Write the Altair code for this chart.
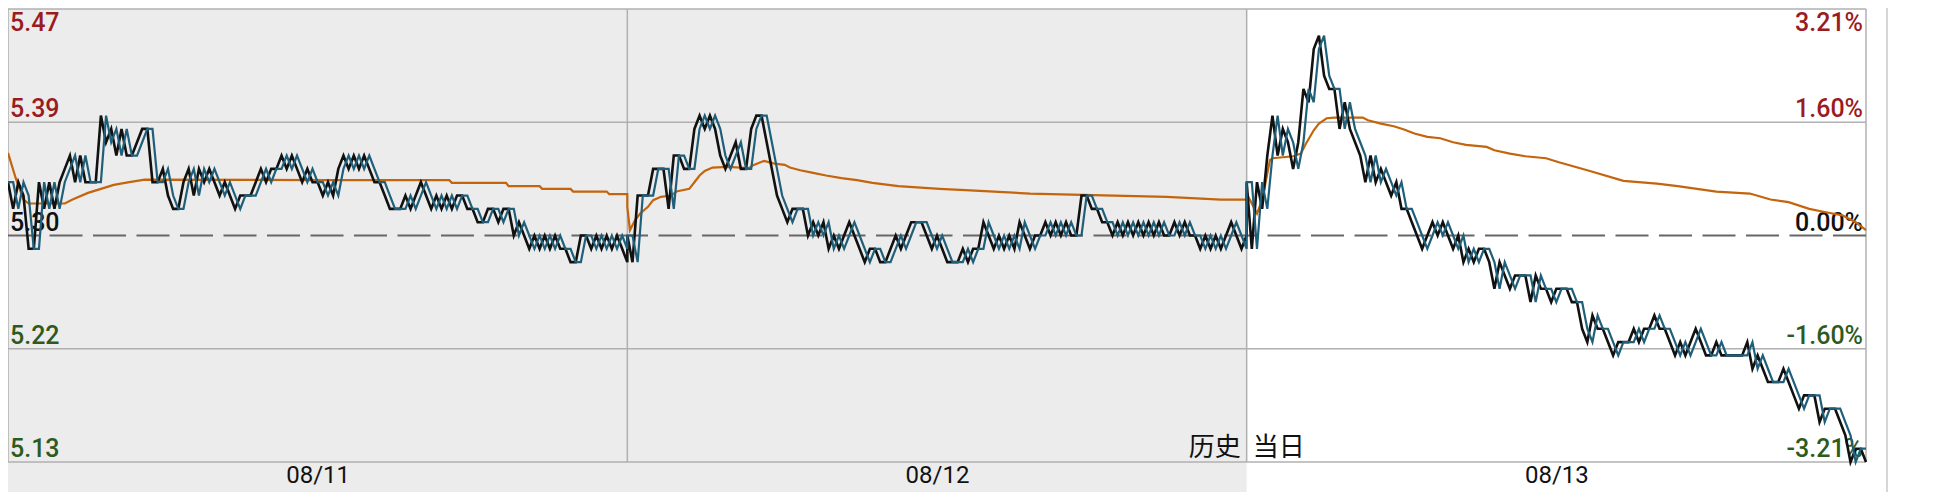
import altair as alt
import pandas as pd

# prices are stored as cents above/below the previous close 5.30, sampled every 2 minutes
prev_close = 5.30
days = ["08/11", "08/12", "08/13"]
minutes = list(range(0, 241, 2))

day1_price = [4, 2, 4, 3, -1, -1, 4, 2, 4, 2,
              4, 5, 6, 4, 6, 4, 4, 4, 9, 7,
              8, 6, 8, 6, 6, 7, 8, 8, 4, 4,
              5, 3, 2, 2, 4, 5, 3, 5, 4, 5,
              4, 3, 4, 3, 2, 3, 3, 3, 4, 5,
              4, 5, 5, 6, 5, 6, 5, 4, 5, 4,
              4, 3, 4, 3, 5, 6, 5, 6, 5, 6,
              5, 4, 4, 3, 2, 2, 2, 3, 2, 3,
              4, 3, 2, 3, 2, 3, 2, 3, 3, 2,
              2, 1, 1, 2, 2, 1, 2, 2, 0, 1,
              0, -1, 0, -1, 0, -1, 0, -1, -1, -2,
              -2, 0, 0, -1, 0, -1, 0, -1, 0, -1,
              -2]
day1_last = [4, 4, 2, 4, 3, -1, -1, 4, 2, 4,
             2, 4, 5, 6, 4, 6, 4, 4, 4, 9,
             7, 8, 6, 8, 6, 6, 7, 8, 8, 4,
             4, 5, 3, 2, 2, 4, 5, 3, 5, 4,
             5, 4, 3, 4, 3, 2, 3, 3, 3, 4,
             5, 4, 5, 5, 6, 5, 6, 5, 4, 5,
             4, 4, 3, 4, 3, 5, 6, 5, 6, 5,
             6, 5, 4, 4, 3, 2, 2, 2, 3, 2,
             3, 4, 3, 2, 3, 2, 3, 2, 3, 3,
             2, 2, 1, 1, 2, 2, 1, 2, 2, 0,
             1, 0, -1, 0, -1, 0, -1, 0, -1, -1,
             -2, -2, 0, 0, -1, 0, -1, 0, -1, 0,
             -1]

day2_price = [0, -2, 3, 3, 3, 5, 5, 5, 2, 6,
              6, 5, 5, 8, 9, 8, 9, 8, 6, 5,
              6, 7, 5, 5, 8, 9, 9, 7, 5, 3,
              2, 1, 2, 2, 2, 0, 1, 0, 1, -1,
              0, -1, 0, 1, 0, -1, -2, -1, -1, -2,
              -2, -1, 0, -1, 0, 1, 1, 1, 0, -1,
              0, -1, -2, -2, -2, -1, -2, -1, -1, 1,
              0, -1, 0, -1, 0, -1, 1, 0, -1, 0,
              0, 1, 0, 1, 0, 1, 0, 0, 3, 3,
              2, 2, 1, 1, 0, 1, 0, 1, 0, 1,
              0, 1, 0, 1, 0, 0, 1, 0, 1, 0,
              0, -1, 0, -1, 0, -1, 0, 1, 0, -1,
              0]
day2_last = [0, 0, -2, 3, 3, 3, 5, 5, 5, 2,
             6, 6, 5, 5, 8, 9, 8, 9, 8, 6,
             5, 6, 7, 5, 5, 8, 9, 9, 7, 5,
             3, 2, 1, 2, 2, 2, 0, 1, 0, 1,
             -1, 0, -1, 0, 1, 0, -1, -2, -1, -1,
             -2, -2, -1, 0, -1, 0, 1, 1, 1, 0,
             -1, 0, -1, -2, -2, -2, -1, -2, -1, -1,
             1, 0, -1, 0, -1, 0, -1, 1, 0, -1,
             0, 0, 1, 0, 1, 0, 1, 0, 0, 3,
             3, 2, 2, 1, 1, 0, 1, 0, 1, 0,
             1, 0, 1, 0, 1, 0, 0, 1, 0, 1,
             0, 0, -1, 0, -1, 0, -1, 0, 1, 0,
             -1]

day3_price = [4, -1, 4, 2, 6, 9, 6, 8, 7, 5,
              7, 11, 10, 14, 15, 12, 11, 11, 8, 10,
              8, 7, 6, 4, 6, 4, 5, 4, 3, 4,
              2, 2, 1, 0, -1, 0, 1, 0, 1, 0,
              -1, 0, -2, -1, -2, -1, -1, -2, -4, -2,
              -3, -4, -3, -3, -3, -5, -3, -4, -4, -5,
              -4, -4, -4, -5, -5, -7, -8, -6, -7, -7,
              -8, -9, -8, -8, -8, -7, -8, -7, -7, -6,
              -7, -7, -8, -9, -8, -9, -8, -7, -8, -9,
              -9, -8, -9, -9, -9, -9, -9, -8, -10, -9,
              -10, -11, -11, -11, -10, -11, -12, -13, -12, -12,
              -12, -14, -13, -13, -13, -14, -15, -17, -16, -16,
              -17]
day3_last = [4, 4, -1, 4, 2, 6, 9, 6, 8, 7,
             5, 7, 11, 10, 14, 15, 12, 11, 11, 8,
             10, 8, 7, 6, 4, 6, 4, 5, 4, 3,
             4, 2, 2, 1, 0, -1, 0, 1, 0, 1,
             0, -1, 0, -2, -1, -2, -1, -1, -2, -4,
             -2, -3, -4, -3, -3, -3, -5, -3, -4, -4,
             -5, -4, -4, -4, -5, -5, -7, -8, -6, -7,
             -7, -8, -9, -8, -8, -8, -7, -8, -7, -7,
             -6, -7, -7, -8, -9, -8, -9, -8, -7, -8,
             -9, -9, -8, -9, -9, -9, -9, -9, -8, -10,
             -9, -10, -11, -11, -11, -10, -11, -12, -13, -12,
             -12, -12, -14, -13, -13, -13, -14, -15, -17, -16,
             -16]

# average price line (minute of day, cents)
day1_avg_t = [0, 3, 6, 8, 22, 25, 31, 36, 41, 47, 53, 121, 171, 172, 193, 194, 206, 207, 218, 219, 232, 233, 240]
day1_avg = [6.2, 4.3, 2.7, 2.4, 2.4, 2.7, 3.2, 3.5, 3.8, 4.0, 4.2, 4.15, 4.15, 3.95, 3.95, 3.7, 3.7, 3.5, 3.5, 3.3, 3.3, 3.1, 3.1]
day2_avg_t = [0, 1, 3, 5, 8, 10, 13, 17, 19, 24, 26, 28, 30, 33, 39, 47, 49, 53, 57, 61,
              63, 67, 72, 77, 83, 89, 95, 105, 121, 131, 156, 209, 230, 240]
day2_avg = [2.15, 0.4, 1.15, 1.65, 2.15, 2.65, 2.9, 3.0, 3.3, 3.5, 4.0, 4.5, 4.85, 5.1, 5.15, 5.05, 5.3, 5.6, 5.4, 5.3,
            5.1, 4.9, 4.7, 4.5, 4.3, 4.15, 3.95, 3.7, 3.5, 3.4, 3.15, 2.9, 2.7, 2.7]
day3_avg_t = [0, 4, 6, 8, 9, 10, 18, 21, 23, 26, 28, 31, 34, 45, 47, 52, 57, 61, 65, 70,
              75, 80, 85, 93, 96, 102, 108, 116, 121, 132, 146, 159, 167, 182, 195, 203, 210, 218, 223, 231,
              236, 240]
day3_avg = [3.15, 1.65, 2.65, 4.65, 5.65, 5.8, 5.95, 6.15, 6.9, 7.9, 8.4, 8.8, 8.85, 8.85, 8.65, 8.4, 8.2, 7.95, 7.65, 7.4,
            7.3, 7.0, 6.8, 6.65, 6.4, 6.15, 5.95, 5.8, 5.5, 4.9, 4.1, 3.9, 3.7, 3.3, 3.15, 2.7, 2.5, 2.0, 1.8, 1.5,
            1.0, 0.4]

levels = [5.47, 5.385, 5.30, 5.215, 5.13]
left_labels = ["5.47", "5.39", "5.30", "5.22", "5.13"]
right_labels = ["3.21%", "1.60%", "0.00%", "-1.60%", "-3.21%"]
label_colors = ["#9b1b1e", "#9b1b1e", "#111111", "#2e5a1c", "#2e5a1c"]

rows = []
for d, (p, l) in enumerate([(day1_price, day1_last), (day2_price, day2_last), (day3_price, day3_last)]):
    for m, a, b in zip(minutes, p, l):
        rows.append({"t": d * 240 + m, "price": prev_close + a / 100, "last": prev_close + b / 100})
lines = pd.DataFrame(rows)

avg_rows = []
for d, (ts, vs) in enumerate([(day1_avg_t, day1_avg), (day2_avg_t, day2_avg), (day3_avg_t, day3_avg)]):
    for m, v in zip(ts, vs):
        avg_rows.append({"t": d * 240 + m, "avg": prev_close + v / 100})
avg = pd.DataFrame(avg_rows)

lab = pd.DataFrame({"p": levels, "left": left_labels, "right": right_labels, "c": label_colors})

xs = alt.Scale(domain=[0, 720], nice=False, zero=False)
ys = alt.Scale(domain=[5.13, 5.47], nice=False, zero=False)

# one x axis shared by every layer: day names under the middle of each day
xaxis = alt.Axis(
    values=[120, 360, 600],
    labelExpr="datum.value == 120 ? '%s' : datum.value == 360 ? '%s' : '%s'" % tuple(days),
    ticks=False, domain=False, grid=False, title=None, labelFont="Roboto", labelFontSize=24,
    labelColor="#111111", labelPadding=1, labelFlush=False, zindex=1)

def X(field):
    return alt.X(field, scale=xs, axis=xaxis)

def Y(field):
    return alt.Y(field, scale=ys, axis=None)

# grey "history" region, runs below the plot down to the page bottom
hist = alt.Chart(pd.DataFrame({"t": [0], "b": [480]})).mark_rect(color="#ececec").encode(
    x=X("t:Q"), x2="b:Q", y=alt.value(0), y2=alt.value(483))

hgrid = alt.Chart(pd.DataFrame({"p": [5.47, 5.385, 5.215, 5.13]})).mark_rule(
    color="#b0b0b0", strokeWidth=1.5).encode(y=Y("p:Q"))
vgrid = alt.Chart(pd.DataFrame({"t": [0, 240, 480, 720]})).mark_rule(
    color="#b0b0b0", strokeWidth=1.5).encode(x=X("t:Q"))
zero = alt.Chart(pd.DataFrame({"p": [prev_close]})).mark_rule(
    color="#666666", strokeWidth=2, strokeDash=[33, 10.5]).encode(y=Y("p:Q"))
edge = alt.Chart(pd.DataFrame({"k": [0]})).mark_rule(color="#c8c8c8", strokeWidth=1.5).encode(
    x=alt.value(1879), y=alt.value(-1), y2=alt.value(483))

def labels(df, dy):
    left = alt.Chart(df).mark_text(font="Roboto", fontSize=25, fontWeight=500, align="left",
                                   baseline="alphabetic", dx=2, dy=dy).encode(
        x=alt.value(0), y=Y("p:Q"), text="left:N", color=alt.Color("c:N", scale=None))
    right = alt.Chart(df).mark_text(font="Roboto", fontSize=25, fontWeight=500, align="right",
                                    baseline="alphabetic", dx=-3, dy=dy).encode(
        x=alt.value(1858), y=Y("p:Q"), text="right:N", color=alt.Color("c:N", scale=None))
    return left + right

top_lab = labels(lab.iloc[:1], 22)
other_lab = labels(lab.iloc[1:], -5)

avg_line = alt.Chart(avg).mark_line(color="#c4640c", strokeWidth=2.2).encode(x=X("t:Q"), y=Y("avg:Q"))
price_line = alt.Chart(lines).mark_line(color="#111111", strokeWidth=2.6).encode(x=X("t:Q"), y=Y("price:Q"))
last_line = alt.Chart(lines).mark_line(color="#1f5f7a", strokeWidth=2.2).encode(x=X("t:Q"), y=Y("last:Q"))

tags = pd.DataFrame({"t": [480, 480], "p": [5.13, 5.13], "s": ["历史", "当日"]})
hist_tag = alt.Chart(tags.iloc[:1]).mark_text(
    font="Noto Sans CJK SC", fontSize=26, align="right", dx=-6, dy=-6, baseline="alphabetic",
    color="#111111").encode(x=X("t:Q"), y=Y("p:Q"), text="s:N")
day_tag = alt.Chart(tags.iloc[1:]).mark_text(
    font="Noto Sans CJK SC", fontSize=26, align="left", dx=6, dy=-6, baseline="alphabetic",
    color="#111111").encode(x=X("t:Q"), y=Y("p:Q"), text="s:N")

chart = alt.layer(
    hist, hgrid, vgrid, zero, edge, top_lab, other_lab,
    avg_line, price_line, last_line, hist_tag, day_tag
).properties(
    width=1858,
    height=453,
    padding={"left": 0, "top": 1, "right": 60, "bottom": 30},
    autosize=alt.AutoSizeParams(type="none"),
    background="white"
).configure_view(stroke=None)

chart.save("out.html", embed_options={"renderer": "svg", "actions": False})
